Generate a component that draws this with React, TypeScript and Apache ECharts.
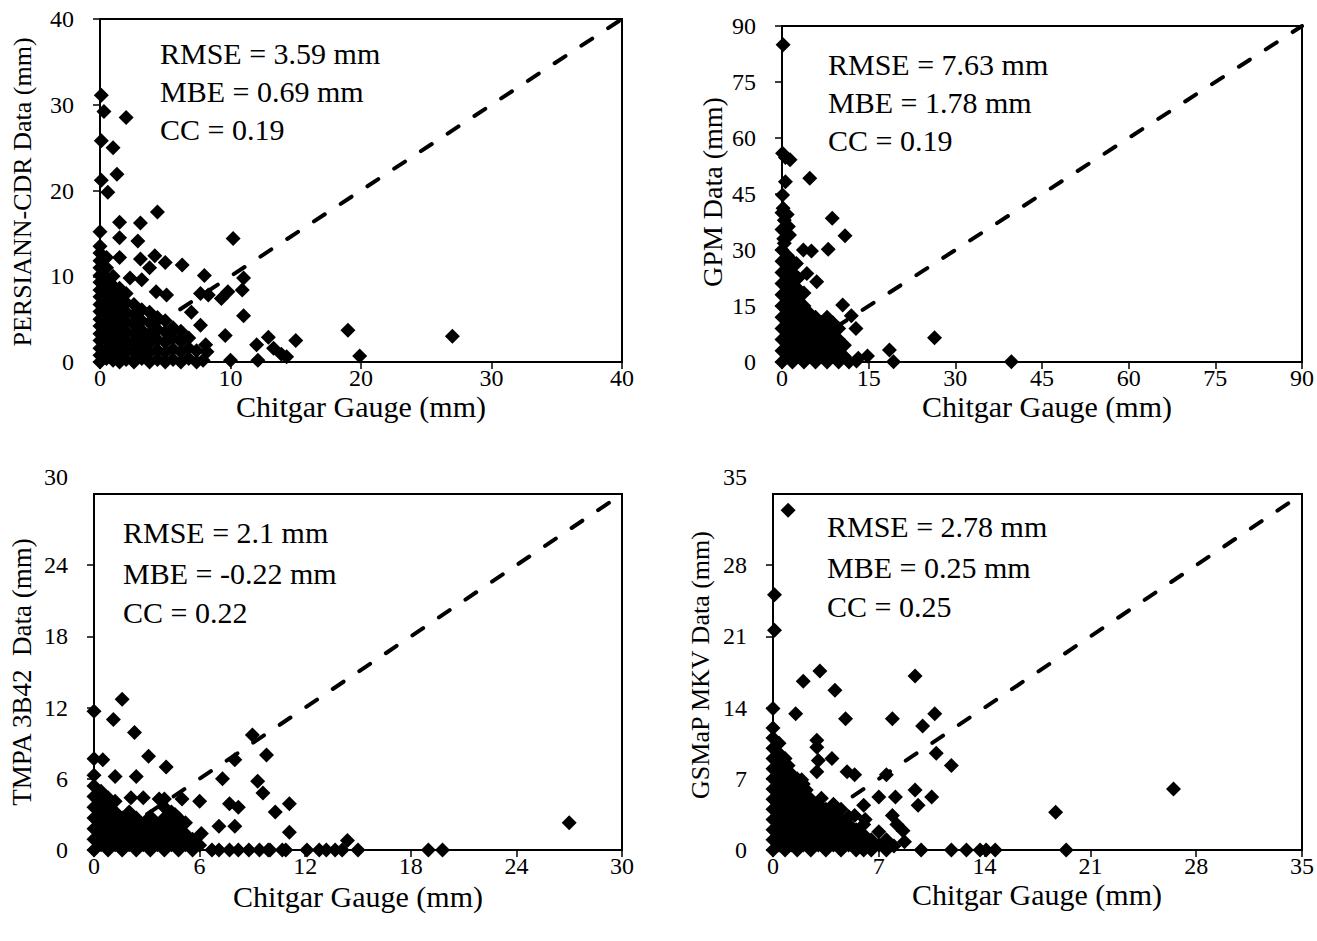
import React, { useEffect, useRef } from "react";
import * as echarts from "echarts";

const FONT = "'Liberation Serif', 'Times New Roman', serif";

// ---- tick labels ----
const persiannTicks = [0, 10, 20, 30, 40];
const gpmTicks = [0, 15, 30, 45, 60, 75, 90];
const tmpaTicks = [0, 6, 12, 18, 24, 30];
const gsmapTicks = [0, 7, 14, 21, 28, 35];

// ---- statistics text ----
const persiannStats = ["RMSE = 3.59 mm", "MBE = 0.69 mm", "CC = 0.19"];
const gpmStats = ["RMSE = 7.63 mm", "MBE = 1.78 mm", "CC = 0.19"];
const tmpaStats = ["RMSE = 2.1 mm", "MBE = -0.22 mm", "CC = 0.22"];
const gsmapStats = ["RMSE = 2.78 mm", "MBE = 0.25 mm", "CC = 0.25"];

// ---- PERSIANN-CDR vs gauge (mm) ----
const persiannOuter = [
  [0.1, 31.1], [0.3, 29.2], [2.0, 28.5], [0.1, 25.8], [1.0, 25.0], [1.3, 21.9], [0.1, 21.2], [0.6, 19.8],
  [4.4, 17.5], [3.1, 16.2], [1.5, 16.3], [0, 15.2], [10.2, 14.4], [1.5, 14.5], [2.9, 14.1], [1.5, 12.2],
  [3.1, 12.0], [4.2, 12.4], [5.0, 11.6], [6.3, 11.3], [3.8, 11.0], [8.0, 10.1], [2.3, 9.8], [3.2, 9.6],
  [11.0, 9.8], [10.9, 8.4], [9.8, 8.2], [9.3, 7.4], [8.3, 7.8], [7.7, 8.0], [4.3, 8.2], [5.1, 7.8],
  [11.0, 5.4], [7.7, 4.3], [9.6, 3.1], [8.1, 2.0], [7.9, 0.2], [10.0, 0.2], [12.0, 2.0], [12.9, 2.9],
  [13.3, 1.6], [15.0, 2.5], [14.3, 0.6], [13.9, 0.9], [12.1, 0.2], [19.0, 3.7], [19.9, 0.7], [27.0, 3.0],
  [8.2, 1.2], [7.0, 5.8],
];
const persiannCluster = [
  [0, 0], [0, 0.8], [0, 1.6], [0, 2.5], [0, 3.3], [0, 4.2], [0, 5], [0, 5.9], [0, 6.7], [0, 7.6], [0, 8.4],
  [0, 9.3], [0, 10.1], [0, 11], [0, 11.8], [0, 12.7], [0, 13.5],
  [0.5, 0.4], [0.5, 1.5], [0.5, 2.6], [0.5, 3.8], [0.5, 5], [0.5, 6.2], [0.5, 7.4], [0.5, 8.6], [0.5, 9.8],
  [0.5, 11], [0.5, 12.2],
  [1, 0.2], [1, 1.2], [1, 2.3], [1, 3.4], [1, 4.5], [1, 5.6], [1, 6.7], [1, 7.8], [1, 8.9], [1, 10],
  [1.5, 0], [1.5, 1], [1.5, 2], [1.5, 3.1], [1.5, 4.2], [1.5, 5.3], [1.5, 6.4], [1.5, 7.5], [1.5, 8.6],
  [2, 0.3], [2, 1.4], [2, 2.5], [2, 3.6], [2, 4.7], [2, 5.8], [2, 6.9], [2, 8],
  [2.6, 0], [2.6, 1.1], [2.6, 2.2], [2.6, 3.3], [2.6, 4.4], [2.6, 5.5], [2.6, 6.7],
  [3.2, 0.4], [3.2, 1.5], [3.2, 2.6], [3.2, 3.7], [3.2, 4.8], [3.2, 6.1],
  [3.8, 0], [3.8, 1.1], [3.8, 2.2], [3.8, 3.3], [3.8, 4.6], [3.8, 5.8],
  [4.4, 0.3], [4.4, 1.4], [4.4, 2.6], [4.4, 3.8], [4.4, 5.2],
  [5, 0], [5, 1.1], [5, 2.3], [5, 3.5], [5, 4.8],
  [5.6, 0.3], [5.6, 1.5], [5.6, 2.8], [5.6, 4],
  [6.2, 0], [6.2, 1.2], [6.2, 2.4], [6.2, 3.6],
  [6.8, 0.4], [6.8, 1.6], [6.8, 2.8],
  [7.4, 0], [7.4, 1.3],
];

// ---- GPM vs gauge (mm) ----
const gpmOuter = [
  [0.2, 85], [0.1, 55.9], [1.4, 54.2], [0.6, 54.8], [4.8, 49.2], [0.6, 48.3], [0.1, 44.7], [0.2, 41.2],
  [0.9, 39.5], [8.7, 38.5], [1.1, 36.3], [10.9, 33.8], [0.4, 31.8], [1.3, 34], [3.7, 30.0], [5.1, 29.7],
  [8.0, 30.2], [2.5, 26.4], [4.3, 23.7], [6.0, 21.5], [10.5, 15.3], [12.0, 12.4], [12.8, 9.0], [26.4, 6.5],
  [18.6, 3.2], [19.3, 0.1], [39.7, 0.1], [14.8, 1.6], [13.2, 1.0], [12.9, 0.3],
];
const gpmCluster = [
  [0, 0], [0, 3], [0, 6], [0, 9], [0, 12], [0, 15], [0, 18], [0, 21], [0, 24], [0, 27], [0, 30], [0.3, 33],
  [0, 35.5], [0.4, 38], [0, 40],
  [0.9, 1.5], [0.9, 4.5], [0.9, 7.5], [0.9, 10.5], [0.9, 13.5], [0.9, 16.5], [0.9, 19.5], [0.9, 22.5],
  [0.9, 25.5], [0.9, 28.5],
  [1.8, 0], [1.8, 3], [1.8, 6], [1.8, 9], [1.8, 12], [1.8, 15], [1.8, 18], [1.8, 21], [1.8, 24], [1.8, 27],
  [2.8, 1.5], [2.8, 4.5], [2.8, 7.5], [2.8, 10.5], [2.8, 13.5], [2.8, 16.5], [2.8, 19.5], [2.8, 22.5],
  [3.8, 0], [3.8, 3], [3.8, 6], [3.8, 9], [3.8, 12], [3.8, 15], [3.8, 18.5],
  [4.8, 1.5], [4.8, 4.5], [4.8, 7.5], [4.8, 10.5], [4.8, 13],
  [5.8, 0], [5.8, 3], [5.8, 6], [5.8, 9], [5.8, 12],
  [6.8, 1.5], [6.8, 4.5], [6.8, 7.5], [6.8, 10.5],
  [7.8, 0], [7.8, 3], [7.8, 6], [7.8, 9], [7.8, 12],
  [8.8, 1.5], [8.8, 4.5], [8.8, 7.5], [8.8, 10.5],
  [9.8, 0], [9.8, 3], [9.8, 6], [9.8, 9],
  [10.8, 1.5], [10.8, 4.5], [11.6, 0],
];

// ---- TMPA 3B42 vs gauge (mm) ----
const tmpaOuter = [
  [0, 11.7], [1.6, 12.7], [1.1, 11.0], [2.3, 9.9], [3.1, 7.9], [4.1, 7.0], [0, 7.7], [0.5, 7.6], [1.2, 6.2],
  [2.4, 6.2], [9.0, 9.7], [9.8, 8.0], [8.0, 7.6], [7.3, 6.0], [9.3, 5.8], [9.6, 4.8], [10.3, 3.2], [11.1, 3.9],
  [11.1, 1.5], [6.0, 4.1], [7.7, 3.9], [8.2, 3.6], [8.0, 2.0], [7.1, 2.0], [6.1, 1.4], [2.1, 4.4], [2.8, 4.4],
  [3.7, 4.3], [4.0, 4.3], [1.2, 4.1], [14.4, 0.8], [15.0, 0], [14.1, 0], [13.2, 0], [12.1, 0], [12.8, 0],
  [13.7, 0], [10.9, 0], [10.7, 0], [10.0, 0], [9.9, 0], [9.4, 0], [8.8, 0], [8.2, 0], [7.7, 0], [7.1, 0],
  [6.7, 0], [19.0, 0], [19.8, 0], [27.0, 2.3], [5.0, 4.3], [4.6, 3.0],
];
const tmpaCluster = [
  [0, 0], [0, 0.9], [0, 1.8], [0, 2.7], [0, 3.6], [0, 4.5], [0, 5.4], [0, 6.3],
  [0.4, 0.45], [0.4, 1.35], [0.4, 2.25], [0.4, 3.15], [0.4, 4.05], [0.4, 4.95],
  [0.8, 0], [0.8, 0.9], [0.8, 1.8], [0.8, 2.7], [0.8, 3.6], [0.8, 4.4],
  [1.2, 0.45], [1.2, 1.35], [1.2, 2.25], [1.2, 3.2],
  [1.6, 0], [1.6, 0.9], [1.6, 1.8], [1.6, 2.7],
  [2.0, 0.45], [2.0, 1.35], [2.0, 2.3], [2.0, 3.2],
  [2.4, 0], [2.4, 0.9], [2.4, 1.8], [2.4, 2.7],
  [2.8, 0.45], [2.8, 1.35], [2.8, 2.2],
  [3.2, 0], [3.2, 0.9], [3.2, 1.8], [3.2, 2.8],
  [3.6, 0.45], [3.6, 1.35], [3.6, 2.2],
  [4.0, 0], [4.0, 0.9], [4.0, 1.8], [4.0, 2.7], [4.0, 3.6],
  [4.4, 0.45], [4.4, 1.35], [4.4, 2.3], [4.4, 3.2],
  [4.8, 0], [4.8, 0.9], [4.8, 1.8], [4.8, 2.7],
  [5.2, 0.45], [5.2, 1.35], [5.2, 2.3],
  [5.6, 0], [5.6, 0.9], [6.0, 0.4],
];

// ---- GSMaP MKV vs gauge (mm) ----
const gsmapOuter = [
  [1.0, 33.4], [0.1, 25.1], [0.1, 21.6], [0, 13.9], [3.1, 17.6], [2.0, 16.6], [4.1, 15.7], [9.4, 17.1],
  [1.5, 13.4], [4.8, 12.9], [7.9, 12.9], [10.7, 13.4], [9.9, 12.2], [2.9, 10.8], [2.9, 10.1], [3.0, 8.8],
  [2.9, 7.7], [3.9, 9.0], [10.8, 9.5], [11.8, 8.3], [4.9, 7.7], [5.4, 7.4], [7.5, 7.4], [1.0, 8.3],
  [1.9, 6.9], [2.2, 5.9], [3.2, 5.1], [7.0, 5.2], [8.1, 5.2], [9.4, 5.9], [10.5, 5.2], [9.6, 4.4],
  [6.0, 4.4], [7.9, 3.4], [5.4, 3.4], [6.1, 3.0], [7.0, 1.8], [8.6, 1.9], [8.2, 2.5], [9.8, 0],
  [11.8, 0], [12.8, 0], [13.7, 0], [14.1, 0], [14.7, 0], [8.7, 0.8], [6.0, 0], [18.7, 3.7], [19.4, 0],
  [26.5, 6.0],
];
const gsmapCluster = [
  [0, 0], [0, 1], [0, 2], [0, 3], [0, 4], [0, 5], [0, 6], [0, 7], [0, 8], [0, 9], [0, 10], [0, 11], [0, 12],
  [0.4, 0.5], [0.4, 1.5], [0.4, 2.5], [0.4, 3.5], [0.4, 4.5], [0.4, 5.5], [0.4, 6.5], [0.4, 7.5], [0.4, 8.5],
  [0.4, 9.5], [0.4, 10.5],
  [0.8, 0], [0.8, 1], [0.8, 2], [0.8, 3], [0.8, 4], [0.8, 5], [0.8, 6], [0.8, 7], [0.8, 8], [0.8, 9],
  [1.2, 0.5], [1.2, 1.5], [1.2, 2.5], [1.2, 3.5], [1.2, 4.5], [1.2, 5.5], [1.2, 6.5], [1.2, 7.5],
  [1.6, 0], [1.6, 1], [1.6, 2], [1.6, 3], [1.6, 4], [1.6, 5], [1.6, 6], [1.6, 7],
  [2.0, 0.5], [2.0, 1.5], [2.0, 2.5], [2.0, 3.5], [2.0, 4.5], [2.0, 5.5], [2.0, 6.5],
  [2.5, 0], [2.5, 1], [2.5, 2], [2.5, 3], [2.5, 4], [2.5, 5],
  [3.0, 0.5], [3.0, 1.5], [3.0, 2.5], [3.0, 3.5], [3.0, 4.5],
  [3.5, 0], [3.5, 1], [3.5, 2], [3.5, 3], [3.5, 4],
  [4.0, 0.5], [4.0, 1.5], [4.0, 2.5], [4.0, 3.5], [4.0, 4.5],
  [4.5, 0], [4.5, 1], [4.5, 2], [4.5, 3], [4.5, 4],
  [5.0, 0.5], [5.0, 1.5], [5.0, 2.5], [5.0, 3.3],
  [5.5, 0], [5.5, 1], [5.5, 2],
  [6.0, 0.5], [6.0, 1.5], [6.0, 2.5],
  [6.5, 0], [6.5, 1], [7.0, 0.5], [7.5, 0], [7.5, 1], [8.0, 0.4],
];

const xTitle = "Chitgar Gauge (mm)";

const panels = [
  {
    yTitle: "PERSIANN-CDR Data (mm)", ticks: persiannTicks, points: [...persiannOuter, ...persiannCluster],
    stats: persiannStats, grid: { left: 100, top: 19, width: 522, height: 343 },
    statsPos: { x: 160, y: [53, 91, 129] }, yTitlePos: [22, 192], yTitleSize: 26, xTitlePos: [361, 406],
    topLabelY: null as number | null,
  },
  {
    yTitle: "GPM Data (mm)", ticks: gpmTicks, points: [...gpmOuter, ...gpmCluster],
    stats: gpmStats, grid: { left: 782, top: 26, width: 520, height: 336 },
    statsPos: { x: 828, y: [64, 102, 140] }, yTitlePos: [712, 192], yTitleSize: 28, xTitlePos: [1047, 406],
    topLabelY: null as number | null,
  },
  {
    yTitle: "TMPA 3B42  Data (mm)", ticks: tmpaTicks, points: [...tmpaOuter, ...tmpaCluster],
    stats: tmpaStats, grid: { left: 94, top: 494, width: 528, height: 356 },
    statsPos: { x: 123, y: [532, 573, 612] }, yTitlePos: [22, 672], yTitleSize: 27, xTitlePos: [358, 896],
    topLabelY: 477 as number | null,
  },
  {
    yTitle: "GSMaP MKV Data (mm)", ticks: gsmapTicks, points: [...gsmapOuter, ...gsmapCluster],
    stats: gsmapStats, grid: { left: 773, top: 494, width: 529, height: 356 },
    statsPos: { x: 827, y: [526, 567, 606] }, yTitlePos: [700, 665], yTitleSize: 26, xTitlePos: [1037, 894],
    topLabelY: 477 as number | null,
  },
];

const LABEL_SIZE = 24;
const Y_LABEL_MARGIN = 26;

function axisCfg(i: number, ticks: number[], isX: boolean, hideMax: boolean) {
  return {
    gridIndex: i,
    type: "value",
    min: ticks[0],
    max: ticks[ticks.length - 1],
    interval: ticks[1] - ticks[0],
    axisLine: { show: true, onZero: false, lineStyle: { color: "#000", width: 2 } },
    axisTick: { show: true, inside: false, length: 7, lineStyle: { color: "#000", width: 1.5 } },
    axisLabel: {
      color: "#000", fontFamily: FONT, fontSize: LABEL_SIZE, margin: isX ? 4 : Y_LABEL_MARGIN,
      showMaxLabel: !hideMax,
    },
    splitLine: { show: false },
  };
}

export default function App() {
  const ref = useRef<HTMLDivElement>(null);
  useEffect(() => {
    if (!ref.current) return;
    const chart = echarts.init(ref.current, undefined, { renderer: "svg" });
    const graphic: any[] = [];
    panels.forEach((p) => {
      p.stats.forEach((t, k) => {
        graphic.push({
          type: "text", x: p.statsPos.x, y: p.statsPos.y[k], z: 10,
          style: { text: t, fill: "#000", fontFamily: FONT, fontSize: 30, align: "left", verticalAlign: "middle" },
        });
      });
      graphic.push({
        type: "text", x: p.yTitlePos[0], y: p.yTitlePos[1], rotation: Math.PI / 2, z: 10,
        style: { text: p.yTitle, fill: "#000", fontFamily: FONT, fontSize: p.yTitleSize, align: "center", verticalAlign: "middle" },
      });
      graphic.push({
        type: "text", x: p.xTitlePos[0], y: p.xTitlePos[1], z: 10,
        style: { text: xTitle, fill: "#000", fontFamily: FONT, fontSize: 30, align: "center", verticalAlign: "middle" },
      });
      if (p.topLabelY !== null) {
        graphic.push({
          type: "text", x: p.grid.left - Y_LABEL_MARGIN, y: p.topLabelY, z: 10,
          style: {
            text: String(p.ticks[p.ticks.length - 1]), fill: "#000", fontFamily: FONT, fontSize: LABEL_SIZE,
            align: "right", verticalAlign: "middle",
          },
        });
      }
    });
    const series: any[] = [];
    panels.forEach((p, i) => {
      const lo = p.ticks[0];
      const hi = p.ticks[p.ticks.length - 1];
      series.push({
        type: "scatter", xAxisIndex: i, yAxisIndex: i, data: p.points, symbol: "diamond", symbolSize: 15,
        itemStyle: { color: "#000", opacity: 1 }, clip: false, z: 2,
      });
      series.push({
        type: "line", xAxisIndex: i, yAxisIndex: i, data: [[lo, lo], [hi, hi]], showSymbol: false, symbol: "none",
        lineStyle: { color: "#000", width: 4, type: [13, 19], cap: "round" }, z: 3,
      });
    });
    chart.setOption({
      animation: false,
      backgroundColor: "#fff",
      grid: panels.map((p) => ({ ...p.grid, show: true, borderColor: "#000", borderWidth: 2, containLabel: false })),
      xAxis: panels.map((p, i) => axisCfg(i, p.ticks, true, false)),
      yAxis: panels.map((p, i) => axisCfg(i, p.ticks, false, p.topLabelY !== null)),
      series,
      graphic,
    });
    return () => chart.dispose();
  }, []);
  return <div ref={ref} style={{ position: "absolute", left: 0, top: 0, width: 1317, height: 941 }} />;
}
